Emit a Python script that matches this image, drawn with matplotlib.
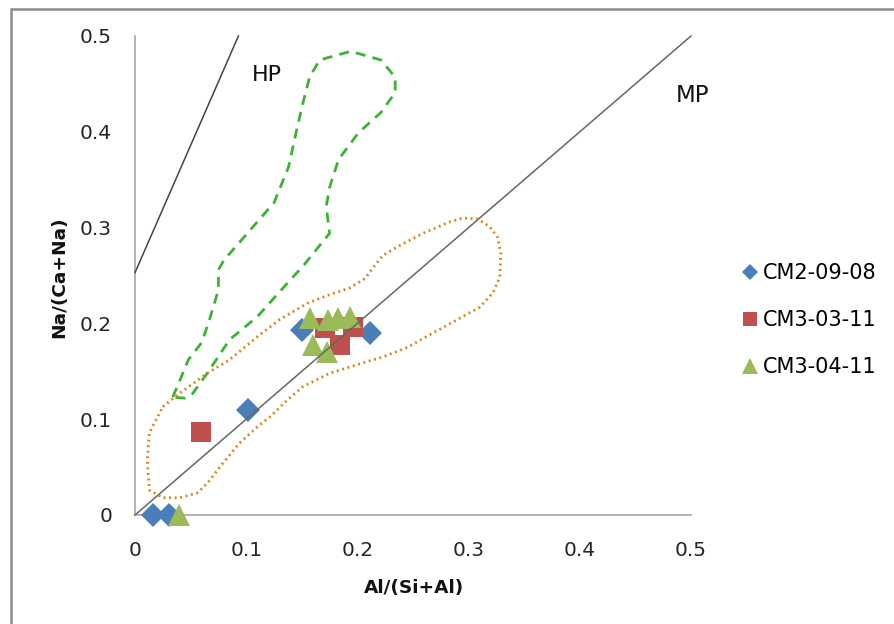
import matplotlib
matplotlib.use("Agg")
import matplotlib.pyplot as plt
from matplotlib.patches import Rectangle, Polygon

plt.rcParams['font.family'] = ['DejaVu Sans']

# ---- data ----
series_names = ["CM2-09-08", "CM3-03-11", "CM3-04-11"]
blue_x = [0.016, 0.031, 0.102, 0.150, 0.211]
blue_y = [0.0, 0.0, 0.110, 0.193, 0.190]
red_x = [0.059, 0.171, 0.184, 0.196]
red_y = [0.087, 0.195, 0.177, 0.196]
green_x = [0.040, 0.157, 0.174, 0.183, 0.193, 0.160, 0.173]
green_y = [0.0, 0.206, 0.204, 0.206, 0.207, 0.177, 0.170]

mp_x = [0.0, 0.5]
mp_y = [0.0, 0.5]
hp_x = [0.0, 0.093]
hp_y = [0.253, 0.5]

green_field_x = [0.034, 0.048, 0.060, 0.067, 0.075, 0.075, 0.080, 0.101, 0.125, 0.138, 0.146,
                 0.151, 0.157, 0.166, 0.194, 0.221, 0.234, 0.234, 0.221, 0.201, 0.183, 0.175,
                 0.172, 0.175, 0.163, 0.152, 0.137, 0.110, 0.085, 0.065, 0.052, 0.045]
green_field_y = [0.123, 0.162, 0.180, 0.204, 0.235, 0.256, 0.266, 0.294, 0.326, 0.363, 0.405,
                 0.430, 0.457, 0.475, 0.484, 0.475, 0.457, 0.441, 0.420, 0.399, 0.371, 0.342,
                 0.322, 0.294, 0.277, 0.261, 0.242, 0.207, 0.183, 0.148, 0.127, 0.122]

orange_field_x = [0.025, 0.040, 0.065, 0.085, 0.110, 0.130, 0.155, 0.175, 0.193, 0.207, 0.216,
                  0.223, 0.236, 0.259, 0.283, 0.295, 0.308, 0.319, 0.326, 0.329, 0.328, 0.322,
                  0.310, 0.290, 0.268, 0.245, 0.223, 0.200, 0.175, 0.151, 0.137, 0.121, 0.110,
                  0.094, 0.079, 0.065, 0.056, 0.040, 0.025, 0.013, 0.011, 0.013]
orange_field_y = [0.113, 0.127, 0.148, 0.162, 0.186, 0.204, 0.221, 0.230, 0.237, 0.247, 0.261,
                  0.271, 0.280, 0.294, 0.306, 0.310, 0.309, 0.301, 0.290, 0.273, 0.248, 0.232,
                  0.217, 0.204, 0.190, 0.175, 0.165, 0.157, 0.148, 0.134, 0.120, 0.102, 0.092,
                  0.075, 0.054, 0.033, 0.023, 0.018, 0.018, 0.026, 0.057, 0.086]

x_ticks = [0, 0.1, 0.2, 0.3, 0.4, 0.5]
y_ticks = [0, 0.1, 0.2, 0.3, 0.4, 0.5]
tick_labels = ["0", "0.1", "0.2", "0.3", "0.4", "0.5"]

# ---- figure ----
fig = plt.figure(figsize=(8.94, 6.24), dpi=100)
fig.patches.append(Rectangle((11/894, -0.5), 2.0, 1.5 - 9/624, transform=fig.transFigure,
                             fill=False, edgecolor="#8c8c8c", linewidth=1.8))
ax = fig.add_axes([135/894, 1 - 515/624, 556/894, 479/624])
ax.set_xlim(0, 0.5)
ax.set_ylim(0, 0.5)
for s in ["top", "right"]:
    ax.spines[s].set_visible(False)
for s in ["left", "bottom"]:
    ax.spines[s].set_color("#a6a6a6")
    ax.spines[s].set_linewidth(1.2)
ax.set_xticks(x_ticks)
ax.set_xticklabels(tick_labels)
ax.set_yticks(y_ticks)
ax.set_yticklabels(tick_labels)
ax.tick_params(length=0, labelsize=14.5, colors="#262626")
ax.tick_params(axis='x', pad=19)
ax.tick_params(axis='y', pad=16.5)

ax.plot(blue_x, blue_y, linestyle='none', marker='D', markersize=12, markeredgewidth=0,
        color="#4a7ebb", label=series_names[0], clip_on=False, zorder=3)
ax.plot(red_x, red_y, linestyle='none', marker='s', markersize=14.5, markeredgewidth=0,
        color="#c0504d", label=series_names[1], clip_on=False, zorder=3)
ax.plot(green_x, green_y, linestyle='none', marker='^', markersize=16, markeredgewidth=0,
        color="#9bbb59", label=series_names[2], clip_on=False, zorder=3)

ax.plot(mp_x, mp_y, color="#666666", linewidth=1.1, zorder=4, clip_on=False)
ax.plot(hp_x, hp_y, color="#444444", linewidth=1.1, zorder=4, clip_on=False)

ax.add_patch(Polygon(list(zip(green_field_x, green_field_y)), closed=True, fill=False,
                     edgecolor="#3cb431", linewidth=2.0, linestyle=(0, (3.6, 2.6)), zorder=5))
ax.add_patch(Polygon(list(zip(orange_field_x, orange_field_y)), closed=True, fill=False,
                     edgecolor="#d9861c", linewidth=2.0, linestyle=(0, (0.7, 1.3)), zorder=5))

ax.text(0.105, 0.459, "HP", fontsize=16, color="#111111", ha='left', va='center')
ax.text(0.4865, 0.438, "MP", fontsize=16.5, color="#111111", ha='left', va='center')

fig.text(414/894, 1 - 588/624, "Al/(Si+Al)", fontsize=13.3, fontweight='bold',
         ha='center', va='center', color="#111111")
fig.text(59/894, 1 - 277/624, "Na/(Ca+Na)", fontsize=13.3, fontweight='bold',
         ha='center', va='center', rotation=90, color="#111111")

leg = ax.legend(loc='center left', bbox_to_anchor=(1.088, 0.407), frameon=False, fontsize=15,
                handletextpad=0.1, labelspacing=1.3, handlelength=1.0, borderaxespad=0,
                borderpad=0, markerscale=0.72)

fig.savefig("out.png", dpi=100)
